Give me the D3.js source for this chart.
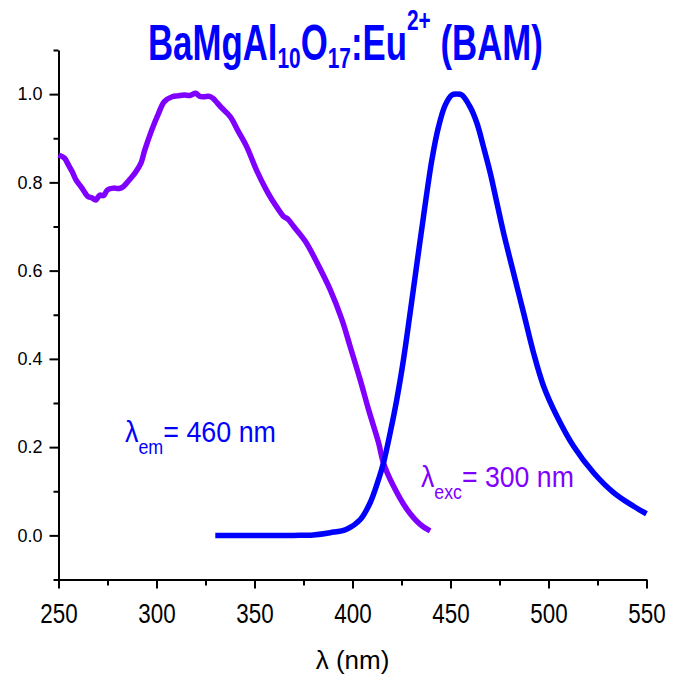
<!DOCTYPE html>
<html>
<head>
<meta charset="utf-8">
<script src="https://cdn.jsdelivr.net/npm/d3@7"></script>
<style>
  body { margin: 0; background: #fff; }
  .chart text { font-family: "Liberation Sans", Arial, sans-serif; }
</style>
</head>
<body>
<div class="chart"></div>
<script>
// BAM excitation / emission spectra

// excitation spectrum (lambda_em = 460 nm)
const excWavelength = [250, 253, 255, 257, 259, 262, 265, 267, 269, 271, 273, 275, 278, 281, 283, 286, 289, 292, 294, 297.6,
  301, 304, 308, 311, 314, 317, 320, 322, 324, 327, 329, 331, 333.4, 337.6, 341.8, 346, 351, 356, 359, 362,
  365, 367, 370, 376, 382, 388.6, 394.6, 398.8, 403.9, 408.2, 413.3, 415.8, 420.9, 427.8, 434.5, 439.6];
const excIntensity = [0.862, 0.855, 0.840, 0.824, 0.805, 0.787, 0.768, 0.765, 0.760, 0.771, 0.770, 0.783, 0.787, 0.786, 0.790, 0.805, 0.821, 0.843, 0.873, 0.919,
  0.956, 0.983, 0.994, 0.996, 0.998, 0.997, 1.002, 0.995, 0.994, 0.995, 0.990, 0.980, 0.968, 0.949, 0.915, 0.881, 0.828, 0.783, 0.760, 0.740,
  0.722, 0.717, 0.700, 0.666, 0.617, 0.557, 0.489, 0.428, 0.353, 0.285, 0.210, 0.164, 0.112, 0.059, 0.025, 0.010];

// emission spectrum (lambda_exc = 300 nm)
const emWavelength = [330, 350, 370, 380, 388.6, 397, 404, 409, 413.3, 415.8, 419.2, 422.6, 426, 429.4, 432.9, 436.2,
  440.5, 443.9, 447.3, 450.7, 453.3, 455.8, 460, 463.5, 466.8, 470.3, 473.7, 477.1, 482.2, 487.3, 492.4, 497.5,
  504.3, 512.8, 523, 533.2, 543.4, 550];
const emIntensity = [0, 0, 0, 0.001, 0.006, 0.014, 0.036, 0.074, 0.127, 0.164, 0.232, 0.308, 0.398, 0.504, 0.617, 0.722,
  0.851, 0.926, 0.975, 0.998, 1.0, 0.998, 0.971, 0.934, 0.881, 0.821, 0.753, 0.685, 0.594, 0.504, 0.413, 0.338,
  0.270, 0.202, 0.142, 0.097, 0.066, 0.049];

// ticks
const xMajorTicks = [250, 300, 350, 400, 450, 500, 550];
const xMinorTicks = [275, 325, 375, 425, 475, 525];
const yMajorTicks = [0, 0.2, 0.4, 0.6, 0.8, 1.0];
const yMinorTicks = [-0.1, 0.1, 0.3, 0.5, 0.7, 0.9, 1.1];

const BLUE = '#0000ff';
const PURPLE = '#8000ff';

const margin = { top: 50, right: 26.5, bottom: 105.5, left: 58.5 };
const width = 673 - margin.left - margin.right;
const height = 685 - margin.top - margin.bottom;

const root = d3.select('.chart')
  .append('svg')
    .attr('width', 673)
    .attr('height', 685);

const svg = root.append('g')
    .attr('transform', `translate(${margin.left}, ${margin.top})`);

const xScale = d3.scaleLinear().domain([250, 550]).range([0, width]);
const yScale = d3.scaleLinear().domain([-0.1, 1.1]).range([height, 0]);

// helper: squeeze a text element horizontally to a given width, keeping its start point
function fitWidth(sel, x0, target) {
  const w = sel.node().getBBox().width;
  const sx = target / w;
  sel.attr('transform', `translate(${x0},0) scale(${sx},1) translate(${-x0},0)`);
}

function styleAxis(g) {
  g.selectAll('path.domain').attr('stroke', '#000').attr('stroke-width', 2);
  g.selectAll('.tick line').attr('stroke', '#000').attr('stroke-width', 2);
  g.selectAll('.tick text').attr('fill', '#000');
}

// x-axis
const gx = svg.append('g')
    .attr('transform', `translate(0, ${height})`)
  .call(d3.axisBottom(xScale).tickValues(xMajorTicks).tickSize(9).tickSizeOuter(0).tickPadding(15).tickFormat(d3.format('d')))
  .call(styleAxis);
gx.selectAll('.tick text')
  .attr('font-size', 27)
  .attr('transform', 'scale(0.83,1)');

svg.append('g')
    .attr('transform', `translate(0, ${height})`)
  .call(d3.axisBottom(xScale).tickValues(xMinorTicks).tickSize(6).tickFormat(''))
  .call(styleAxis)
  .select('path.domain').remove();

// y-axis
const gy = svg.append('g')
  .call(d3.axisLeft(yScale).tickValues(yMajorTicks).tickSize(9).tickSizeOuter(0).tickPadding(7).tickFormat(d3.format('.1f')))
  .call(styleAxis);
gy.selectAll('.tick text').attr('font-size', 18);

svg.append('g')
  .call(d3.axisLeft(yScale).tickValues(yMinorTicks).tickSize(5).tickFormat(''))
  .call(styleAxis)
  .select('path.domain').remove();

// lines
const drawLine = d3.line()
  .x(d => xScale(d[0]))
  .y(d => yScale(d[1]))
  .curve(d3.curveCatmullRom.alpha(0.5));

const series = [
  { values: d3.zip(excWavelength, excIntensity), color: PURPLE },
  { values: d3.zip(emWavelength, emIntensity), color: BLUE }
];

svg.selectAll('.line')
  .data(series)
  .enter()
  .append('path')
  .attr('class', 'line')
  .attr('d', d => drawLine(d.values))
  .style('stroke', d => d.color)
  .style('stroke-width', 5.5)
  .style('stroke-linejoin', 'round')
  .style('fill', 'none');

// title
const title = root.append('text')
  .attr('x', 148)
  .attr('y', 60)
  .attr('fill', BLUE)
  .attr('font-weight', 'bold')
  .attr('font-size', 50);
title.append('tspan').text('BaMgAl');
title.append('tspan').attr('dy', 8).attr('font-size', 30).text('10');
title.append('tspan').attr('dy', -8).text('O');
title.append('tspan').attr('dy', 8).attr('font-size', 30).text('17');
title.append('tspan').attr('dy', -8).text(':Eu');
title.append('tspan').attr('dy', -30).attr('font-size', 30).text('2+');
title.append('tspan').attr('dy', 30).text(' (BAM)');
fitWidth(title, 148, 395);

// annotations
function label(x, y, sub, rest, color, target) {
  const t = root.append('text')
    .attr('x', x)
    .attr('y', y)
    .attr('fill', color)
    .attr('font-size', 30);
  t.append('tspan').text('λ');
  t.append('tspan').attr('dy', 12).attr('font-size', 20).text(sub);
  t.append('tspan').attr('dy', -12).text(rest);
  fitWidth(t, x, target);
}
label(125, 442, 'em', '= 460 nm', BLUE, 151);
label(421, 487, 'exc', '= 300 nm', PURPLE, 153);

// x axis title
root.append('text')
  .attr('x', margin.left + width / 2)
  .attr('y', 669)
  .attr('text-anchor', 'middle')
  .attr('font-size', 26)
  .attr('fill', '#000')
  .text('λ (nm)');
</script>
</body>
</html>
